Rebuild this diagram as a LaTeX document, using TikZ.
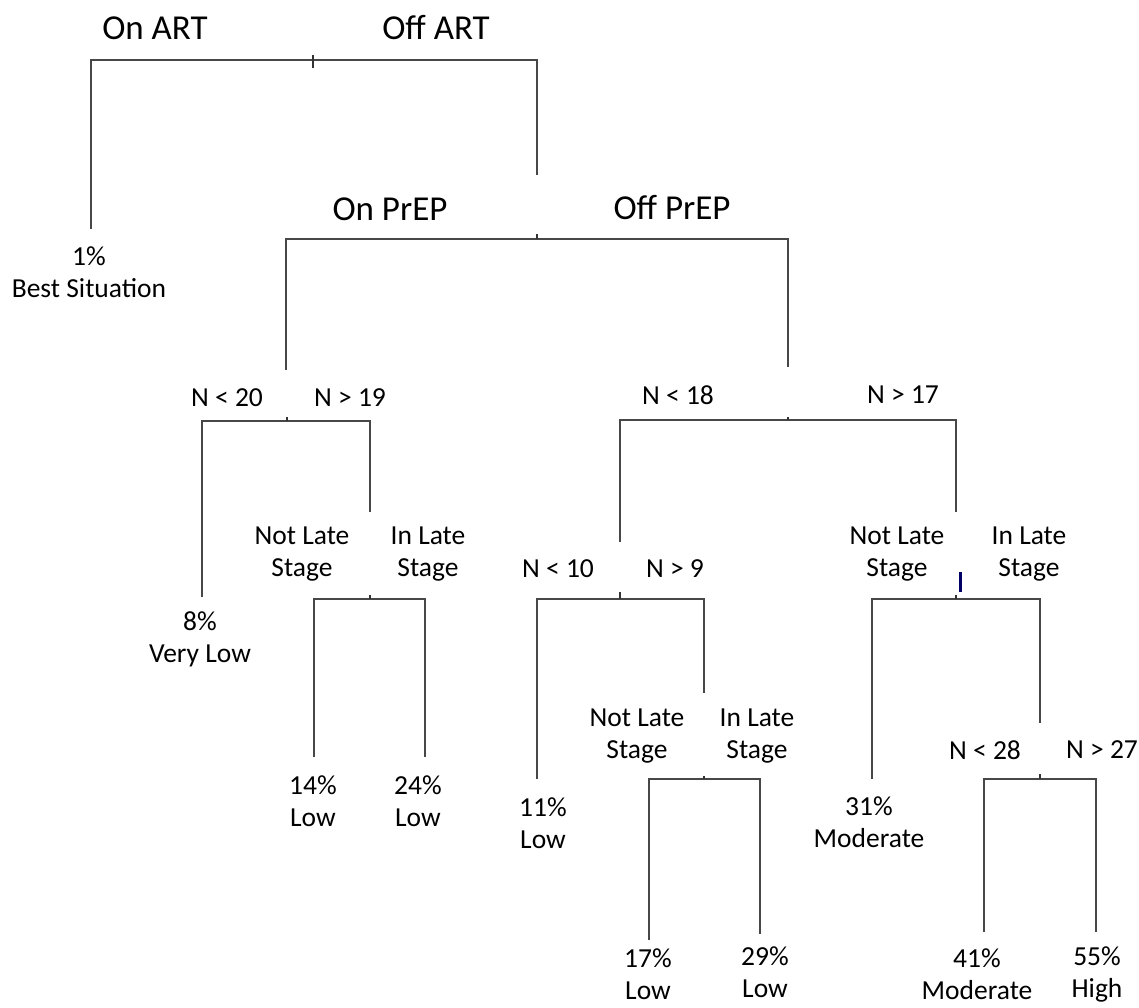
\documentclass[tikz,border=0pt]{standalone}
\usepackage{fontspec}
\setmainfont{Carlito}

\begin{document}
\begin{tikzpicture}[x=1pt,y=-1pt,
	split/.style={draw=black!72, line width=2pt, line join=miter},
	tick/.style={draw=black!80, line width=2pt},
	biglab/.style={font=\fontsize{35}{40}\selectfont, inner sep=0pt},
	smalllab/.style={font=\fontsize{27.5}{32}\selectfont, inner sep=0pt, align=center}]
		
		\useasboundingbox (0,0) rectangle (1139,1007);
		%
		% THE SPLIT POINTS
		% ART
		\coordinate (art-l) at (91,60);
		\coordinate (art-r) at (537,60);
		\coordinate (art-lend) at (91,229);
		\coordinate (art-rend) at (537,175);
		\coordinate (art-tt) at (313,55);
		\coordinate (art-tb) at (313,68);
		% PREP
		\coordinate (prep-l) at (286,239);
		\coordinate (prep-r) at (788,239);
		\coordinate (prep-lend) at (286,370);
		\coordinate (prep-rend) at (788,367);
		\coordinate (prep-t) at (537,234);
		% N 20
		\coordinate (n20-l) at (202,421);
		\coordinate (n20-r) at (370,421);
		\coordinate (n20-lend) at (202,597);
		\coordinate (n20-rend) at (370,512);
		\coordinate (n20-t) at (287,417);
		% LEFT STAGE
		\coordinate (sta-l) at (314,599);
		\coordinate (sta-r) at (425,599);
		\coordinate (sta-lend) at (314,757);
		\coordinate (sta-rend) at (425,757);
		\coordinate (sta-t) at (370,595);
		% N 18
		\coordinate (n18-l) at (620,420);
		\coordinate (n18-r) at (956,420);
		\coordinate (n18-lend) at (620,542);
		\coordinate (n18-rend) at (956,512);
		\coordinate (n18-t) at (788,417);
		% N 10
		\coordinate (n10-l) at (537,599);
		\coordinate (n10-r) at (704,599);
		\coordinate (n10-lend) at (537,779);
		\coordinate (n10-rend) at (704,693);
		\coordinate (n10-t) at (620,592);
		% MIDDLE STAGE
		\coordinate (stb-l) at (649,779);
		\coordinate (stb-r) at (760,779);
		\coordinate (stb-lend) at (649,940);
		\coordinate (stb-rend) at (760,934);
		\coordinate (stb-t) at (704,776);
		% RIGHT STAGE
		\coordinate (stc-l) at (872,599);
		\coordinate (stc-r) at (1040,599);
		\coordinate (stc-lend) at (872,779);
		\coordinate (stc-rend) at (1040,723);
		\coordinate (stc-t) at (956,595);
		\coordinate (mark-t) at (960,572);
		\coordinate (mark-b) at (960,592);
		% N 28
		\coordinate (n28-l) at (984,779);
		\coordinate (n28-r) at (1096,779);
		\coordinate (n28-lend) at (984,932);
		\coordinate (n28-rend) at (1096,932);
		\coordinate (n28-t) at (1040,774);
		%
		% THE BRACKETS
		\draw[split] (art-lend) -- (art-l) -- (art-r) -- (art-rend);
		\draw[split] (prep-lend) -- (prep-l) -- (prep-r) -- (prep-rend);
		\draw[split] (n20-lend) -- (n20-l) -- (n20-r) -- (n20-rend);
		\draw[split] (sta-lend) -- (sta-l) -- (sta-r) -- (sta-rend);
		\draw[split] (n18-lend) -- (n18-l) -- (n18-r) -- (n18-rend);
		\draw[split] (n10-lend) -- (n10-l) -- (n10-r) -- (n10-rend);
		\draw[split] (stb-lend) -- (stb-l) -- (stb-r) -- (stb-rend);
		\draw[split] (stc-lend) -- (stc-l) -- (stc-r) -- (stc-rend);
		\draw[split] (n28-lend) -- (n28-l) -- (n28-r) -- (n28-rend);
		%
		% THE TICKS
		\draw[tick] (art-tt) -- (art-tb);
		\draw[tick] (prep-t) -- (prep-t |- prep-l);
		\draw[tick] (n20-t) -- (n20-t |- n20-l);
		\draw[tick] (sta-t) -- (sta-t |- sta-l);
		\draw[tick] (n18-t) -- (n18-t |- n18-l);
		\draw[tick] (n10-t) -- (n10-t |- n10-l);
		\draw[tick] (stb-t) -- (stb-t |- stb-l);
		\draw[tick] (stc-t) -- (stc-t |- stc-l);
		\draw[tick] (n28-t) -- (n28-t |- n28-l);
		\draw[draw=blue!40!black, line width=3pt] (mark-t) -- (mark-b);
		%
		% THE LABELS
		% TOP
		\node[biglab] (onart) at (155,28) {On ART};
		\node[biglab] (offart) at (436,28) {Off ART};
		\node[smalllab] (best) at (89,272) {1\%\\Best Situation};
		\node[biglab] (onprep) at (390,209) {On PrEP};
		\node[biglab] (offprep) at (672,208) {Off PrEP};
		% LEFT
		\node[smalllab] (nlt20) at (227,398) {N < 20};
		\node[smalllab] (ngt19) at (350,398) {N > 19};
		\node[smalllab] (verylow) at (200,639) {8\%\\Very Low};
		\node[smalllab] (notlatea) at (302,554) {Not Late\\Stage};
		\node[smalllab] (inlatea) at (428,554) {In Late\\Stage};
		\node[smalllab] (lowa) at (313,801) {14\%\\Low};
		\node[smalllab] (lowb) at (418,801) {24\%\\Low};
		% MIDDLE
		\node[smalllab] (nlt18) at (678,395) {N < 18};
		\node[smalllab] (ngt17) at (903,395) {N > 17};
		\node[smalllab] (nlt10) at (558,569) {N < 10};
		\node[smalllab] (ngt9) at (675,569) {N > 9};
		\node[smalllab] (lowc) at (543,823) {11\%\\Low};
		\node[smalllab] (notlateb) at (637,736) {Not Late\\Stage};
		\node[smalllab] (inlateb) at (757,736) {In Late\\Stage};
		\node[smalllab] (lowd) at (648,974) {17\%\\Low};
		\node[smalllab] (lowe) at (765,972) {29\%\\Low};
		% RIGHT
		\node[smalllab] (notlatec) at (897,554) {Not Late\\Stage};
		\node[smalllab] (inlatec) at (1029,554) {In Late\\Stage};
		\node[smalllab] (moda) at (869,822) {31\%\\Moderate};
		\node[smalllab] (nlt28) at (985,750) {N < 28};
		\node[smalllab] (ngt27) at (1102,750) {N > 27};
		\node[smalllab] (modb) at (977,974) {41\%\\Moderate};
		\node[smalllab] (high) at (1097,974) {55\%\\High};
	\end{tikzpicture}
\end{document}
